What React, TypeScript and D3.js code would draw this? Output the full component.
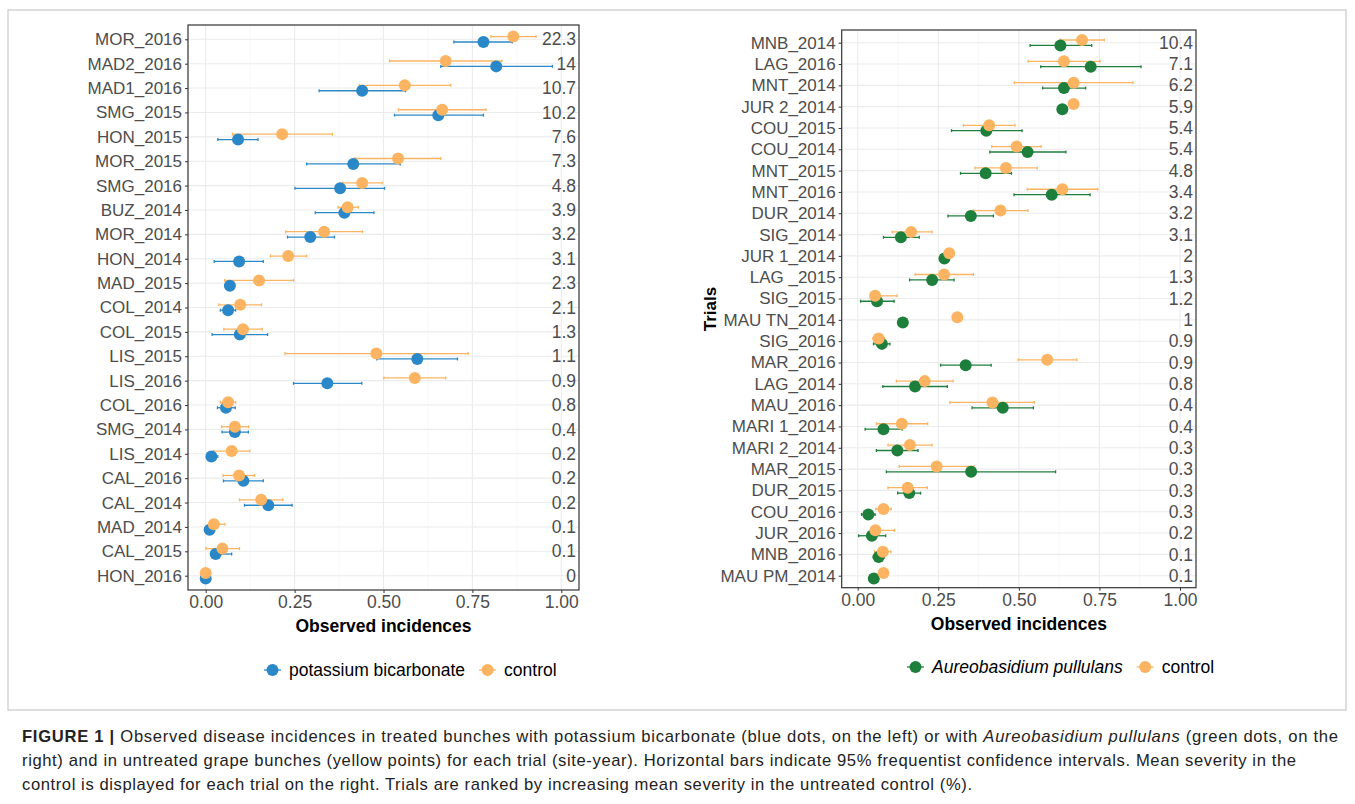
import * as d3 from 'd3'
import { useEffect, useRef } from 'react'

// left panel: potassium bicarbonate
const trialsL = ['MOR_2016', 'MAD2_2016', 'MAD1_2016', 'SMG_2015', 'HON_2015', 'MOR_2015', 'SMG_2016', 'BUZ_2014', 'MOR_2014', 'HON_2014', 'MAD_2015', 'COL_2014', 'COL_2015', 'LIS_2015', 'LIS_2016', 'COL_2016', 'SMG_2014', 'LIS_2014', 'CAL_2016', 'CAL_2014', 'MAD_2014', 'CAL_2015', 'HON_2016']
const severityL = ['22.3', '14', '10.7', '10.2', '7.6', '7.3', '4.8', '3.9', '3.2', '3.1', '2.3', '2.1', '1.3', '1.1', '0.9', '0.8', '0.4', '0.2', '0.2', '0.2', '0.1', '0.1', '0']
const treatL = [0.781, 0.817, 0.44, 0.654, 0.091, 0.415, 0.378, 0.39, 0.294, 0.094, 0.068, 0.063, 0.096, 0.595, 0.342, 0.057, 0.082, 0.016, 0.106, 0.176, 0.011, 0.028, 0]
const treatLoL = [0.698, 0.661, 0.319, 0.531, 0.034, 0.284, 0.251, 0.308, 0.23, 0.024, 0.06, 0.041, 0.018, 0.481, 0.247, 0.033, 0.046, 0.006, 0.05, 0.109, 0.005, 0.02, 0]
const treatHiL = [0.862, 0.975, 0.562, 0.781, 0.147, 0.547, 0.503, 0.473, 0.362, 0.162, 0.075, 0.084, 0.174, 0.708, 0.439, 0.083, 0.12, 0.034, 0.162, 0.243, 0.02, 0.073, 0]
const ctrlL = [0.865, 0.675, 0.56, 0.665, 0.215, 0.541, 0.44, 0.399, 0.333, 0.232, 0.15, 0.097, 0.105, 0.48, 0.588, 0.063, 0.082, 0.073, 0.094, 0.156, 0.023, 0.047, 0]
const ctrlLoL = [0.802, 0.517, 0.432, 0.542, 0.075, 0.42, 0.385, 0.372, 0.225, 0.182, 0.053, 0.037, 0.051, 0.223, 0.501, 0.041, 0.045, 0.022, 0.049, 0.095, 0.01, 0.001, 0]
const ctrlHiL = [0.929, 0.833, 0.689, 0.788, 0.356, 0.661, 0.496, 0.429, 0.441, 0.284, 0.247, 0.157, 0.159, 0.738, 0.675, 0.084, 0.121, 0.124, 0.137, 0.217, 0.054, 0.095, 0]

// right panel: Aureobasidium pullulans
const trialsR = ['MNB_2014', 'LAG_2016', 'MNT_2014', 'JUR 2_2014', 'COU_2015', 'COU_2014', 'MNT_2015', 'MNT_2016', 'DUR_2014', 'SIG_2014', 'JUR 1_2014', 'LAG _2015', 'SIG_2015', 'MAU TN_2014', 'SIG_2016', 'MAR_2016', 'LAG_2014', 'MAU_2016', 'MARI 1_2014', 'MARI 2_2014', 'MAR_2015', 'DUR_2015', 'COU_2016', 'JUR_2016', 'MNB_2016', 'MAU PM_2014']
const severityR = ['10.4', '7.1', '6.2', '5.9', '5.4', '5.4', '4.8', '3.4', '3.2', '3.1', '2', '1.3', '1.2', '1', '0.9', '0.9', '0.8', '0.4', '0.4', '0.3', '0.3', '0.3', '0.3', '0.2', '0.1', '0.1']
const treatR = [0.629, 0.723, 0.64, 0.635, 0.399, 0.527, 0.397, 0.602, 0.351, 0.134, 0.269, 0.231, 0.06, 0.14, 0.075, 0.335, 0.178, 0.45, 0.08, 0.123, 0.352, 0.16, 0.033, 0.044, 0.065, 0.05]
const treatLoR = [0.535, 0.568, 0.574, 0.635, 0.291, 0.41, 0.319, 0.485, 0.28, 0.08, 0.269, 0.161, 0.009, 0.14, 0.049, 0.257, 0.078, 0.355, 0.023, 0.058, 0.089, 0.124, 0.012, 0.003, 0.048, 0.05]
const treatHiR = [0.726, 0.879, 0.707, 0.635, 0.51, 0.646, 0.477, 0.721, 0.421, 0.191, 0.269, 0.299, 0.113, 0.14, 0.1, 0.414, 0.278, 0.545, 0.138, 0.187, 0.614, 0.195, 0.054, 0.087, 0.083, 0.05]
const ctrlR = [0.696, 0.64, 0.67, 0.67, 0.408, 0.493, 0.46, 0.635, 0.443, 0.166, 0.284, 0.268, 0.054, 0.309, 0.065, 0.588, 0.208, 0.418, 0.137, 0.162, 0.245, 0.155, 0.08, 0.055, 0.078, 0.08]
const ctrlLoR = [0.628, 0.529, 0.486, 0.67, 0.328, 0.416, 0.364, 0.526, 0.359, 0.107, 0.284, 0.178, 0.05, 0.309, 0.047, 0.498, 0.12, 0.286, 0.058, 0.094, 0.129, 0.094, 0.056, 0.05, 0.052, 0.08]
const ctrlHiR = [0.765, 0.752, 0.854, 0.67, 0.488, 0.569, 0.557, 0.745, 0.528, 0.231, 0.284, 0.359, 0.122, 0.309, 0.083, 0.68, 0.296, 0.548, 0.217, 0.231, 0.361, 0.216, 0.104, 0.114, 0.103, 0.08]

const xTicks = [0, 0.25, 0.5, 0.75, 1]

const ORANGE = '#FDB462'
const BLUE = '#2B88C8'
const GREEN = '#1E7F3C'
const TXT = '#4D4D4D'
const FONT = 'Liberation Sans, Arial, sans-serif'
const FS = 17

interface PanelCfg {
  box: [number, number, number, number] // left, top, right, bottom
  x0: number; x1: number; yFirst: number; yLast: number
  trials: string[]; severity: string[]
  treat: number[]; treatLo: number[]; treatHi: number[]
  ctrl: number[]; ctrlLo: number[]; ctrlHi: number[]
  color: string
}

function drawPanel(g: d3.Selection<SVGGElement, unknown, null, undefined>, c: PanelCfg) {
  const [L, T, R, B] = c.box
  const x = d3.scaleLinear().domain([0, 1]).range([c.x0, c.x1])
  const y = d3.scalePoint<string>().domain(c.trials).range([c.yFirst, c.yLast])

  // grid
  const minor = [0.125, 0.375, 0.625, 0.875]
  g.selectAll('.gmin').data(minor).enter().append('line')
    .attr('x1', d => x(d)).attr('x2', d => x(d)).attr('y1', T).attr('y2', B)
    .attr('stroke', '#F2F2F2').attr('stroke-width', 0.6)
  g.selectAll('.gx').data(xTicks).enter().append('line')
    .attr('x1', d => x(d)).attr('x2', d => x(d)).attr('y1', T).attr('y2', B)
    .attr('stroke', '#EBEBEB').attr('stroke-width', 1.1)
  g.selectAll('.gy').data(c.trials).enter().append('line')
    .attr('x1', L).attr('x2', R).attr('y1', d => y(d)!).attr('y2', d => y(d)!)
    .attr('stroke', '#EBEBEB').attr('stroke-width', 1.1)

  const idx = d3.range(c.trials.length)
  const off = 2.7
  const series = [
    { v: c.treat, lo: c.treatLo, hi: c.treatHi, col: c.color, dy: off },
    { v: c.ctrl, lo: c.ctrlLo, hi: c.ctrlHi, col: ORANGE, dy: -off },
  ]
  series.forEach(s => {
    const yy = (i: number) => y(c.trials[i])! + s.dy
    const withBar = idx.filter(i => s.hi[i] > s.lo[i])
    g.selectAll(null).data(withBar).enter().append('line')
      .attr('x1', i => x(s.lo[i])).attr('x2', i => x(s.hi[i]))
      .attr('y1', yy).attr('y2', yy).attr('stroke', s.col).attr('stroke-width', 1.3)
    ;[s.lo, s.hi].forEach(arr => {
      g.selectAll(null).data(withBar).enter().append('line')
        .attr('x1', i => x(arr[i])).attr('x2', i => x(arr[i]))
        .attr('y1', i => yy(i) - 1.5).attr('y2', i => yy(i) + 1.5)
        .attr('stroke', s.col).attr('stroke-width', 1.3)
    })
  })
  series.forEach(s => {
    g.selectAll(null).data(idx).enter().append('circle')
      .attr('cx', i => x(s.v[i])).attr('cy', i => y(c.trials[i])! + s.dy)
      .attr('r', 6).attr('fill', s.col)
  })

  // severity labels
  g.selectAll(null).data(idx).enter().append('text')
    .attr('x', R - 3).attr('y', i => y(c.trials[i])!).attr('dy', '0.35em')
    .attr('text-anchor', 'end').attr('font-family', FONT).attr('font-size', 17.5)
    .attr('fill', TXT).text(i => c.severity[i])

  // border
  g.append('rect').attr('x', L).attr('y', T).attr('width', R - L).attr('height', B - T)
    .attr('fill', 'none').attr('stroke', '#333').attr('stroke-width', 1.2)

  // y axis
  const ya = g.append('g').attr('transform', `translate(${L},0)`).call(d3.axisLeft(y).tickSize(3).tickPadding(3))
  ya.select('.domain').remove()
  ya.selectAll('line').attr('stroke', '#333')
  ya.selectAll('text').attr('font-family', FONT).attr('font-size', FS).attr('fill', TXT)

  // x axis
  const xa = g.append('g').attr('transform', `translate(0,${B})`)
    .call(d3.axisBottom(x).tickValues(xTicks).tickFormat(d3.format('.2f')).tickSize(3).tickPadding(3))
  xa.select('.domain').remove()
  xa.selectAll('line').attr('stroke', '#333')
  xa.selectAll('text').attr('font-family', FONT).attr('font-size', 17.5).attr('fill', TXT)

  g.append('text').attr('x', (L + R) / 2).attr('y', B + 42).attr('text-anchor', 'middle')
    .attr('font-family', FONT).attr('font-size', 17.5).attr('font-weight', 'bold').text('Observed incidences')
}

export default function App() {
  const ref = useRef<SVGSVGElement | null>(null)
  useEffect(() => {
    if (!ref.current) return
    const svg = d3.select(ref.current)
    svg.selectAll('*').remove()

    svg.append('rect').attr('x', 8).attr('y', 10).attr('width', 1338).attr('height', 700)
      .attr('fill', 'none').attr('stroke', '#BDBDBD').attr('stroke-width', 1)

    drawPanel(svg.append('g'), {
      box: [188, 25, 579, 590], x0: 205.7, x1: 561.3, yFirst: 39.3, yLast: 575.7,
      trials: trialsL, severity: severityL, treat: treatL, treatLo: treatLoL, treatHi: treatHiL,
      ctrl: ctrlL, ctrlLo: ctrlLoL, ctrlHi: ctrlHiL, color: BLUE,
    })
    drawPanel(svg.append('g'), {
      box: [841.7, 30, 1196, 587.7], x0: 857.7, x1: 1180, yFirst: 42.7, yLast: 575.7,
      trials: trialsR, severity: severityR, treat: treatR, treatLo: treatLoR, treatHi: treatHiR,
      ctrl: ctrlR, ctrlLo: ctrlLoR, ctrlHi: ctrlHiR, color: GREEN,
    })

    svg.append('text').attr('transform', 'translate(716,309) rotate(-90)').attr('text-anchor', 'middle')
      .attr('font-family', FONT).attr('font-size', 17).attr('font-weight', 'bold').text('Trials')

    // legends
    const legend = (x: number, y: number, items: { col: string; label: string; italic?: boolean }[]) => {
      let cx = x
      items.forEach(it => {
        const lg = svg.append('g')
        lg.append('line').attr('x1', cx).attr('x2', cx + 17).attr('y1', y).attr('y2', y).attr('stroke', it.col).attr('stroke-width', 1.3)
        lg.append('circle').attr('cx', cx + 8.5).attr('cy', y).attr('r', 6).attr('fill', it.col)
        const t = lg.append('text').attr('x', cx + 25).attr('y', y).attr('dy', '0.35em')
          .attr('font-family', FONT).attr('font-size', 17.5).attr('fill', '#000')
          .attr('font-style', it.italic ? 'italic' : 'normal').text(it.label)
        cx += 25 + (t.node() as SVGTextElement).getComputedTextLength() + 14
      })
    }
    legend(264, 670, [{ col: BLUE, label: 'potassium bicarbonate' }, { col: ORANGE, label: 'control' }])
    legend(907, 667, [{ col: GREEN, label: 'Aureobasidium pullulans', italic: true }, { col: ORANGE, label: 'control' }])

    // caption
    const capFont = 16.6
    const line = (y: number, w: number) => svg.append('text').attr('x', 22).attr('y', y)
      .attr('font-family', FONT).attr('font-size', capFont).attr('fill', '#222')
      .attr('textLength', w).attr('lengthAdjust', 'spacing')
    const l1 = line(742, 1316)
    l1.append('tspan').attr('font-weight', 'bold').text('FIGURE 1 | ')
    l1.append('tspan').text('Observed disease incidences in treated bunches with potassium bicarbonate (blue dots, on the left) or with ')
    l1.append('tspan').attr('font-style', 'italic').text('Aureobasidium pullulans')
    l1.append('tspan').text(' (green dots, on the')
    line(766, 1274).text('right) and in untreated grape bunches (yellow points) for each trial (site-year). Horizontal bars indicate 95% frequentist confidence intervals. Mean severity in the')
    line(790, 950).text('control is displayed for each trial on the right. Trials are ranked by increasing mean severity in the untreated control (%).')
  }, [])
  return <svg ref={ref} width={1355} height={804} style={{ position: 'absolute', left: 0, top: 0, background: '#fff' }} />
}
